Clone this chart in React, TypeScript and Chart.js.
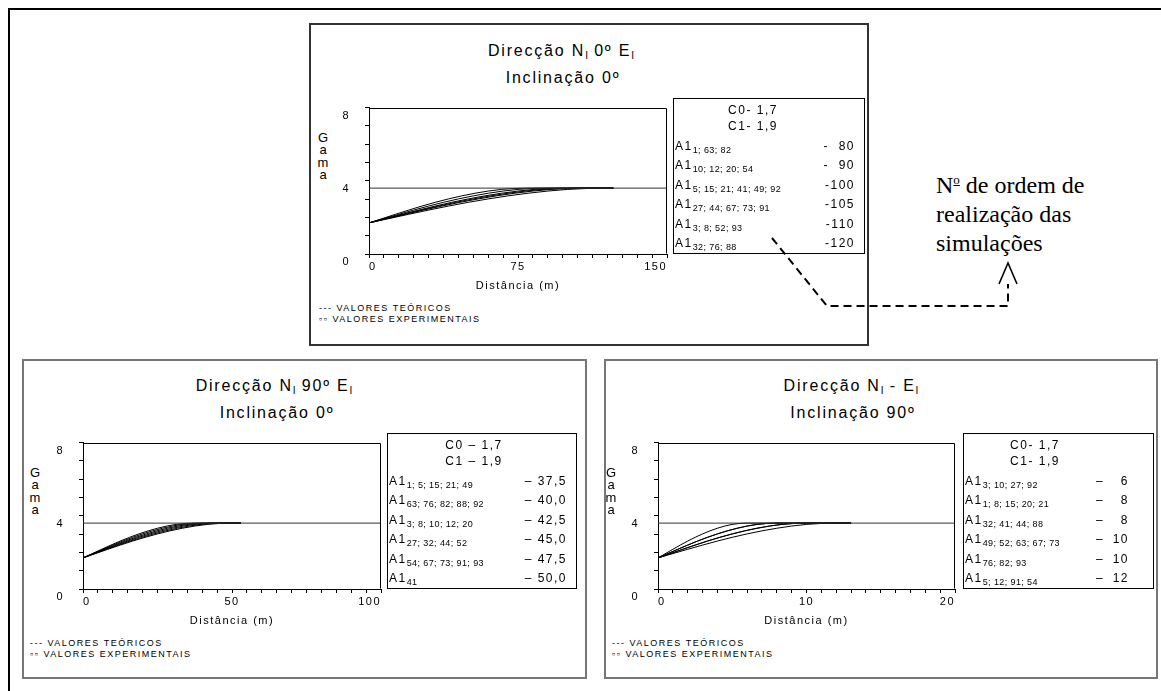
import React, { useEffect, useRef } from 'react';
import { Chart, registerables } from 'chart.js';

Chart.register(...registerables);

const SANS = "'Liberation Sans', Arial, Helvetica, sans-serif";
const SERIF = "'Liberation Serif', 'Times New Roman', Times, serif";

// ---------------- data ----------------
const yMajorTicks = [0, 4, 8];
const sillLevel = 3.6; // C0 + C1 = 1,7 + 1,9
// spherical-model shape: fraction of the range -> gamma
const shapeFractions = [0, 0.1667, 0.3333, 0.5, 0.6667, 0.8333, 1];
const shapeGamma = [1.7, 2.17, 2.62, 3.01, 3.32, 3.53, 3.6];

// Direcção N 0º E, Inclinação 0º
const xTicksN0E = [0, 75, 150];
const rangesN0E = [80, 90, 100, 105, 110, 120];
const simsN0E = ['1; 63; 82', '10; 12; 20; 54', '5; 15; 21; 41; 49; 92', '27; 44; 67; 73; 91', '3; 8; 52; 93', '32; 76; 88'];
const rangeTextN0E = ['-  80', '-  90', '-100', '-105', '-110', '-120'];
const cTextN0E = ['C0- 1,7', 'C1- 1,9'];

// Direcção N 90º E, Inclinação 0º
const xTicksN90E = [0, 50, 100];
const rangesN90E = [37.5, 40, 42.5, 45, 47.5, 50];
const simsN90E = ['1; 5; 15; 21; 49', '63; 76; 82; 88; 92', '3; 8; 10; 12; 20', '27; 32; 44; 52', '54; 67; 73; 91; 93', '41'];
const rangeTextN90E = ['– 37,5', '– 40,0', '– 42,5', '– 45,0', '– 47,5', '– 50,0'];
const cTextN90E = ['C0 – 1,7', 'C1 – 1,9'];

// Direcção N - E, Inclinação 90º
const xTicksVert = [0, 10, 20];
const rangesVert = [6, 8, 8, 10, 10, 12];
const simsVert = ['3; 10; 27; 92', '1; 8; 15; 20; 21', '32; 41; 44; 88', '49; 52; 63; 67; 73', '76; 82; 93', '5; 12; 91; 54'];
const rangeTextVert = ['6', '8', '8', '10', '10', '12'];
const cTextVert = ['C0- 1,7', 'C1- 1,9'];

// ---------------- layout ----------------
type Box = { l: number; t: number; r: number; b: number };
type Panel = {
  frame: Box;
  frameColor: string;
  titleMid: string;
  titleX: number;
  subtitle: string;
  subX: number;
  plot: Box;
  xMajor: number[];
  xMinor: number;
  ranges: number[];
  curveEnd: number;
  gamaX: number;
  footX: number;
  legend: { l: number; r: number };
  cText: string[];
  cX: number;
  sims: string[];
  values: string[];
  valueRight: number;
  dashLeft?: number;
};

const panels: Panel[] = [
  {
    frame: { l: 309, t: 23, r: 869, b: 346 },
    frameColor: '#333',
    titleMid: ' 0º E',
    titleX: 561,
    subtitle: 'Inclinação 0º',
    subX: 563,
    plot: { l: 369, t: 98, r: 667, b: 254 },
    xMajor: xTicksN0E,
    xMinor: 7.5,
    ranges: rangesN0E,
    curveEnd: 123,
    gamaX: 323,
    footX: 319,
    legend: { l: 673, r: 865 },
    cText: cTextN0E,
    cX: 753,
    sims: simsN0E,
    values: rangeTextN0E,
    valueRight: 855,
  },
  {
    frame: { l: 22, t: 359, r: 587, b: 679 },
    frameColor: '#777',
    titleMid: ' 90º E',
    titleX: 274,
    subtitle: 'Inclinação 0º',
    subX: 277,
    plot: { l: 83, t: 433, r: 381, b: 589 },
    xMajor: xTicksN90E,
    xMinor: 5,
    ranges: rangesN90E,
    curveEnd: 53,
    gamaX: 35,
    footX: 30,
    legend: { l: 387, r: 577 },
    cText: cTextN90E,
    cX: 474,
    sims: simsN90E,
    values: rangeTextN90E,
    valueRight: 567,
  },
  {
    frame: { l: 604, t: 359, r: 1158, b: 679 },
    frameColor: '#777',
    titleMid: ' - E',
    titleX: 851,
    subtitle: 'Inclinação 90º',
    subX: 853,
    plot: { l: 658, t: 433, r: 955, b: 589 },
    xMajor: xTicksVert,
    xMinor: 1,
    ranges: rangesVert,
    curveEnd: 13,
    gamaX: 611,
    footX: 612,
    legend: { l: 963, r: 1154 },
    cText: cTextVert,
    cX: 1035,
    sims: simsVert,
    values: rangeTextVert,
    valueRight: 1129,
    dashLeft: 1096,
  },
];

const PAD_L = 60;
const PAD_T = 12;
const PAD_R = 26;
const AXIS_H = 39;

const spacingPlugin = {
  id: 'letterSpacing',
  beforeUpdate(chart: any) {
    chart.ctx.letterSpacing = '1.5px';
  },
  beforeDraw(chart: any) {
    chart.ctx.letterSpacing = '1.5px';
  },
};

const framePlugin = {
  id: 'plotFrame',
  afterDraw(chart: any) {
    const { ctx, chartArea } = chart;
    const l = Math.round(chartArea.left) + 0.5;
    const t = Math.round(chartArea.top) + 0.5;
    const r = Math.round(chartArea.right) - 0.5;
    const b = Math.round(chartArea.bottom) - 0.5;
    ctx.save();
    ctx.strokeStyle = '#000';
    ctx.lineWidth = 1;
    ctx.beginPath();
    ctx.moveTo(l, t);
    ctx.lineTo(r, t);
    ctx.lineTo(r, b);
    ctx.stroke();
    ctx.restore();
  },
};

const isMajor = (list: number[], v: number) => list.some((m) => Math.abs(m - v) < 1e-6);

function VariogramChart({ p }: { p: Panel }) {
  const ref = useRef<HTMLCanvasElement>(null);
  const w = p.plot.r - p.plot.l + PAD_L + PAD_R;
  const h = p.plot.b - p.plot.t + PAD_T + AXIS_H;
  const xMax = p.xMajor[p.xMajor.length - 1];

  useEffect(() => {
    if (!ref.current) return;
    const datasets: any[] = [
      {
        data: [
          { x: 0, y: sillLevel },
          { x: xMax, y: sillLevel },
        ],
        borderColor: '#333',
        borderWidth: 1,
        pointRadius: 0,
      },
      ...p.ranges.map((r) => ({
        data: [
          ...shapeFractions.map((f, i) => ({ x: r * f, y: shapeGamma[i] })),
          { x: p.curveEnd, y: sillLevel },
        ],
        borderColor: '#000',
        borderWidth: 1,
        pointRadius: 0,
        cubicInterpolationMode: 'monotone',
      })),
    ];
    const tickFont = { family: SANS, size: 11 };
    const chart = new Chart(ref.current, {
      type: 'line',
      data: { datasets },
      options: {
        responsive: false,
        animation: false,
        devicePixelRatio: 1,
        layout: { padding: { left: 0, top: PAD_T, right: PAD_R, bottom: 0 } },
        plugins: {
          legend: { display: false },
          tooltip: { enabled: false },
          title: { display: false },
        },
        scales: {
          x: {
            type: 'linear',
            min: 0,
            max: xMax,
            afterFit: (s: any) => {
              s.height = AXIS_H;
            },
            ticks: {
              stepSize: p.xMinor,
              autoSkip: false,
              maxRotation: 0,
              align: 'inner',
              padding: 2,
              color: '#000',
              font: tickFont,
              callback: (v: any) => (isMajor(p.xMajor, Number(v)) ? String(v) : ''),
            },
            grid: { drawOnChartArea: false, tickLength: 4, color: '#000' },
            border: { color: '#000', width: 1 },
            title: {
              display: true,
              text: 'Distância (m)',
              color: '#000',
              font: tickFont,
              padding: 0,
            },
          },
          y: {
            min: 0,
            max: 8,
            afterFit: (s: any) => {
              s.width = PAD_L;
            },
            ticks: {
              stepSize: 1,
              padding: 15,
              labelOffset: 8,
              color: '#000',
              font: tickFont,
              callback: (v: any) => (isMajor(yMajorTicks, Number(v)) ? String(v) : ''),
            },
            grid: { drawOnChartArea: false, tickLength: 4, color: '#000' },
            border: { color: '#000', width: 1 },
          },
        },
      } as any,
      plugins: [spacingPlugin, framePlugin],
    });
    return () => chart.destroy();
  }, []);

  return (
    <canvas
      ref={ref}
      width={w}
      height={h}
      style={{
        position: 'absolute',
        left: p.plot.l - PAD_L,
        top: p.plot.t - PAD_T,
        width: w,
        height: h,
      }}
    />
  );
}

const abs = (extra: React.CSSProperties): React.CSSProperties => ({
  position: 'absolute',
  whiteSpace: 'pre',
  fontFamily: SANS,
  color: '#000',
  ...extra,
});

function PanelView({ p }: { p: Panel }) {
  const subI = (
    <span style={{ fontSize: 10, position: 'relative', top: 3, letterSpacing: 0, color: '#000' }}>I</span>
  );
  return (
    <>
      <div
        style={{
          position: 'absolute',
          left: p.frame.l,
          top: p.frame.t,
          width: p.frame.r - p.frame.l,
          height: p.frame.b - p.frame.t,
          border: `2px solid ${p.frameColor}`,
          boxSizing: 'border-box',
        }}
      />
      <div
        style={abs({
          left: p.titleX - 200,
          width: 400,
          top: p.plot.t - 57,
          lineHeight: '20px',
          fontSize: 16,
          letterSpacing: '1.8px',
          textAlign: 'center',
        })}
      >
        Direcção N{subI}
        {p.titleMid}
        {subI}
      </div>
      <div
        style={abs({
          left: p.subX - 200,
          width: 400,
          top: p.plot.t - 30,
          lineHeight: '20px',
          fontSize: 16,
          letterSpacing: '1.8px',
          textAlign: 'center',
        })}
      >
        {p.subtitle}
      </div>
      <div
        style={abs({
          left: p.gamaX - 10,
          width: 20,
          top: p.plot.t + 34,
          lineHeight: '12.3px',
          fontSize: 13,
          textAlign: 'center',
        })}
      >
        {'G\na\nm\na'}
      </div>
      <VariogramChart p={p} />
      <div
        style={abs({
          left: p.footX,
          top: p.plot.b + 49,
          lineHeight: '10.5px',
          fontSize: 9,
          letterSpacing: '1.5px',
        })}
      >
        {'--- VALORES TEÓRICOS\n▫▫ VALORES EXPERIMENTAIS'}
      </div>
      <div
        style={{
          position: 'absolute',
          left: p.legend.l,
          top: p.plot.t,
          width: p.legend.r - p.legend.l,
          height: p.plot.b - p.plot.t,
          border: '1px solid #000',
          boxSizing: 'border-box',
        }}
      />
      {p.cText.map((c, i) => (
        <div
          key={'c' + i}
          style={abs({
            left: p.cX - 60,
            width: 120,
            textAlign: 'center',
            top: p.plot.t + 12 + i * 15.5 - 7,
            lineHeight: '14px',
            fontSize: 12,
            letterSpacing: '1.5px',
          })}
        >
          {c}
        </div>
      ))}
      {p.sims.map((s, i) => {
        const y = p.plot.t + 48 + i * 19.4;
        return (
          <React.Fragment key={'r' + i}>
            <div
              style={abs({
                left: p.legend.l + 2,
                top: y - 7,
                lineHeight: '14px',
                fontSize: 12,
                letterSpacing: '1.5px',
              })}
            >
              A1
              <span style={{ fontSize: 9, letterSpacing: '0.4px', position: 'relative', top: 3 }}>{s}</span>
            </div>
            {p.dashLeft !== undefined && (
              <div style={abs({ left: p.dashLeft, top: y - 7, lineHeight: '14px', fontSize: 12 })}>–</div>
            )}
            <div
              style={abs({
                right: 1161 - p.valueRight,
                top: y - 7,
                lineHeight: '14px',
                fontSize: 12,
                letterSpacing: '1.5px',
                textAlign: 'right',
              })}
            >
              {p.values[i]}
            </div>
          </React.Fragment>
        );
      })}
    </>
  );
}

export default function App() {
  return (
    <div
      style={{
        position: 'absolute',
        left: 0,
        top: 0,
        width: 1161,
        height: 691,
        overflow: 'hidden',
        background: '#fff',
        fontFamily: SANS,
      }}
    >
      <div
        style={{
          position: 'absolute',
          left: 8,
          top: 8,
          width: 1200,
          height: 700,
          borderTop: '2px solid #000',
          borderLeft: '2px solid #000',
        }}
      />
      {panels.map((p, i) => (
        <PanelView key={i} p={p} />
      ))}
      <div
        style={{
          position: 'absolute',
          left: 936,
          top: 165,
          fontFamily: SERIF,
          fontSize: 24,
          lineHeight: '29px',
          color: '#000',
          whiteSpace: 'pre',
        }}
      >
        N
        <span style={{ fontSize: 13, verticalAlign: 'super', textDecoration: 'underline' }}>o</span>
        {' de ordem de\nrealização das\nsimulações'}
      </div>
      <svg
        width={1161}
        height={691}
        style={{ position: 'absolute', left: 0, top: 0, pointerEvents: 'none' }}
      >
        <polyline
          points="772,238 827,306 1008,306 1008,284"
          fill="none"
          stroke="#000"
          strokeWidth={2}
          strokeDasharray="8 5"
        />
        <polyline points="999,284 1008,263 1017,284" fill="none" stroke="#000" strokeWidth={1.6} />
      </svg>
    </div>
  );
}
